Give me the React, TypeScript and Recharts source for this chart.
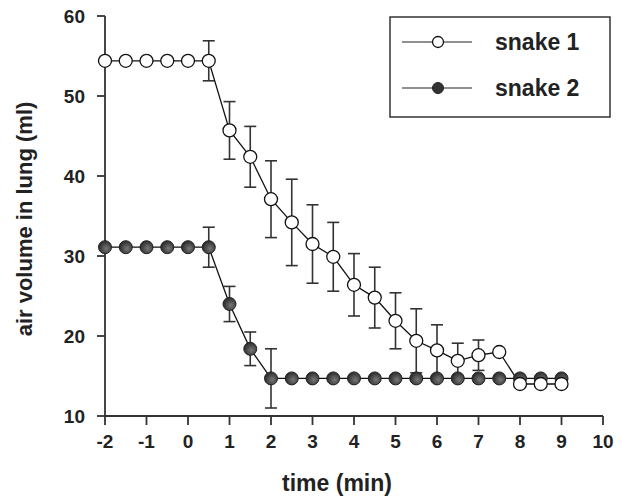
import React from 'react';
import { LineChart, Line, XAxis, YAxis, ErrorBar } from 'recharts';

const times = [-2, -1.5, -1, -0.5, 0, 0.5, 1, 1.5, 2, 2.5, 3, 3.5, 4, 4.5, 5, 5.5, 6, 6.5, 7, 7.5, 8, 8.5, 9];
const snake1 = [54.4, 54.4, 54.4, 54.4, 54.4, 54.4, 45.7, 42.4, 37.1, 34.2, 31.5, 29.9, 26.4, 24.8, 21.9, 19.4, 18.2, 16.9, 17.6, 18.0, 14.0, 14.0, 14.0];
const snake1Err = [null, null, null, null, null, 2.5, 3.6, 3.8, 4.8, 5.4, 4.9, 4.3, 3.9, 3.8, 3.5, 4.0, 3.2, 2.2, 1.9, null, null, null, null];
const snake2 = [31.1, 31.1, 31.1, 31.1, 31.1, 31.1, 24.0, 18.4, 14.7, 14.7, 14.7, 14.7, 14.7, 14.7, 14.7, 14.7, 14.7, 14.7, 14.7, 14.7, 14.7, 14.7, 14.7];
const snake2Err = [null, null, null, null, null, 2.5, 2.2, 2.1, 3.7, null, null, null, null, null, null, null, null, null, null, null, null, null, null];
const xTicks = [-2, -1, 0, 1, 2, 3, 4, 5, 6, 7, 8, 9, 10];
const yTicks = [10, 20, 30, 40, 50, 60];

const data = times.map((t, i) => ({
  t,
  s1: snake1[i],
  e1: snake1Err[i],
  s2: snake2[i],
  e2: snake2Err[i],
}));

const FONT = 'Arial, "Liberation Sans", Helvetica, sans-serif';
const AXIS = '#333';

const OpenDot = (props: any) => {
  const { cx, cy } = props;
  if (cx == null || cy == null) return null;
  return <circle cx={cx} cy={cy} r={6.5} fill="#fff" stroke="#111" strokeWidth={1.3} />;
};

const FilledDot = (props: any) => {
  const { cx, cy } = props;
  if (cx == null || cy == null) return null;
  return <circle cx={cx} cy={cy} r={6.5} fill="url(#ball)" stroke="#222" strokeWidth={1} />;
};

// legend drawn as an overlay so it doesn't eat plot space
const LegendBox = () => (
  <svg width={222} height={102} style={{ position: 'absolute', left: 389, top: 16 }}>
    <rect x={1} y={1} width={220} height={100} fill="#fff" stroke="#333" strokeWidth={1.5} />
    <line x1={13} y1={26} x2={83} y2={26} stroke="#222" strokeWidth={1.2} />
    <circle cx={49} cy={26} r={5.5} fill="#fff" stroke="#111" strokeWidth={1.3} />
    <text x={106} y={34} fontFamily={FONT} fontWeight="bold" fontSize={23} fill="#222">snake 1</text>
    <line x1={13} y1={72} x2={83} y2={72} stroke="#222" strokeWidth={1.2} />
    <circle cx={49} cy={72} r={5.5} fill="#333" stroke="#222" strokeWidth={1} />
    <text x={106} y={80} fontFamily={FONT} fontWeight="bold" fontSize={23} fill="#222">snake 2</text>
  </svg>
);

export default function App() {
  const tickStyle = { fontFamily: FONT, fontWeight: 'bold', fontSize: 19, fill: '#222' };
  return (
    <div style={{ position: 'absolute', left: 0, top: 0, width: 622, height: 499, background: '#fff' }}>
      <LineChart width={622} height={499} data={data} margin={{ top: 16, right: 19, left: 0, bottom: 0 }}>
        <defs>
          <radialGradient id="ball" cx="0.6" cy="0.6" r="0.6">
            <stop offset="0%" stopColor="#777" />
            <stop offset="100%" stopColor="#2a2a2a" />
          </radialGradient>
        </defs>
        <XAxis
          dataKey="t"
          type="number"
          domain={[-2, 10]}
          ticks={xTicks}
          height={83}
          tickSize={9}
          tickMargin={10}
          tick={tickStyle}
          axisLine={{ stroke: AXIS, strokeWidth: 1.8 }}
          tickLine={{ stroke: AXIS, strokeWidth: 1.8 }}
          label={{
            value: 'time (min)',
            position: 'insideBottom',
            offset: 8,
            dx: -17,
            style: { fontFamily: FONT, fontWeight: 'bold', fontSize: 23, fill: '#222' },
          }}
        />
        <YAxis
          type="number"
          domain={[10, 60]}
          ticks={yTicks}
          width={105}
          tickSize={8}
          tickMargin={12}
          tick={tickStyle}
          axisLine={{ stroke: AXIS, strokeWidth: 1.8 }}
          tickLine={{ stroke: AXIS, strokeWidth: 1.8 }}
          label={{
            value: 'air volume in lung (ml)',
            angle: -90,
            position: 'insideLeft',
            offset: 24,
            dy: 3,
            style: { fontFamily: FONT, fontWeight: 'bold', fontSize: 22, fill: '#222', textAnchor: 'middle' },
          }}
        />
        <Line
          dataKey="s2"
          name="snake 2"
          stroke="#111"
          strokeWidth={1.3}
          dot={<FilledDot />}
          activeDot={false}
          isAnimationActive={false}
        >
          <ErrorBar dataKey="e2" width={6} stroke="#333" strokeWidth={1.6} direction="y" />
        </Line>
        <Line
          dataKey="s1"
          name="snake 1"
          stroke="#111"
          strokeWidth={1.3}
          dot={<OpenDot />}
          activeDot={false}
          isAnimationActive={false}
        >
          <ErrorBar dataKey="e1" width={6} stroke="#333" strokeWidth={1.6} direction="y" />
        </Line>
      </LineChart>
      <LegendBox />
    </div>
  );
}
